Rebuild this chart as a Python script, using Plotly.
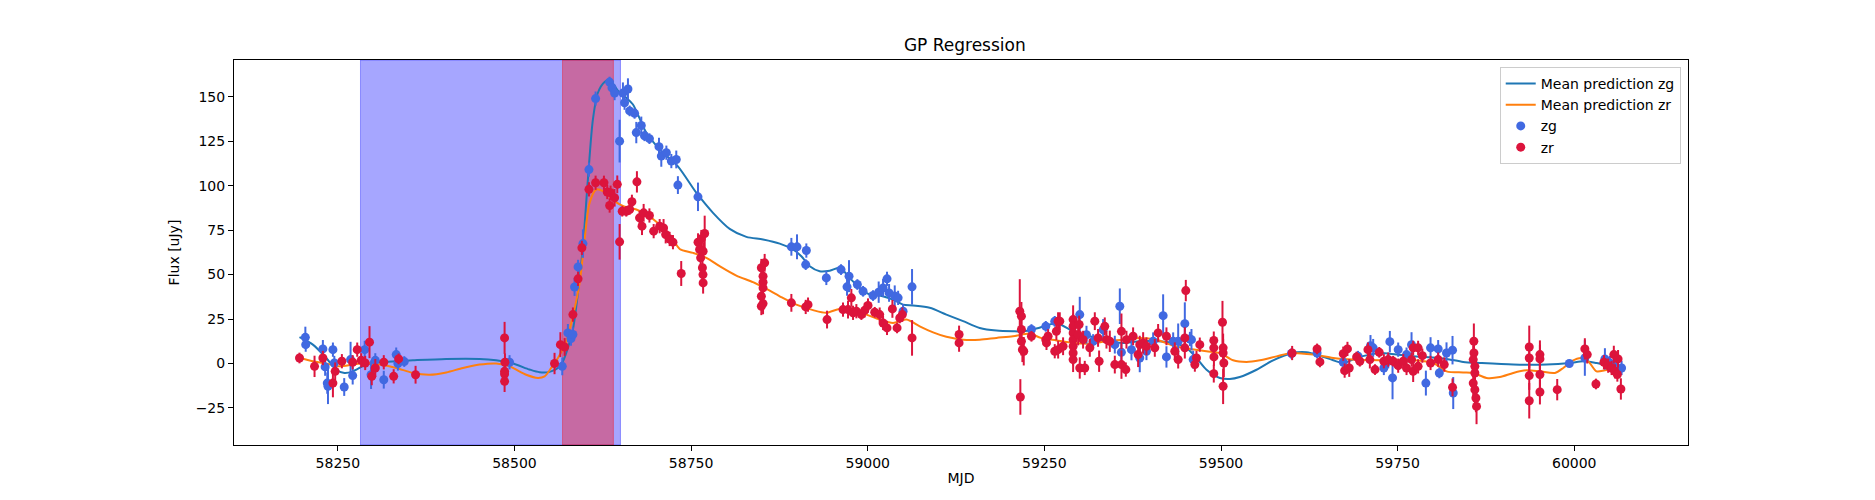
import plotly.graph_objects as go

# observed photometry, zg band
zg_mjd = [58204, 58204.5, 58228.8, 58232, 58235, 58236, 58243, 58245, 58259, 58268,
          58271, 58288, 58297, 58303, 58315, 58332.6, 58335, 58344, 58493, 58567.6,
          58575.6, 58580, 58582.7, 58585, 58590, 58596.9, 58605.4, 58614.8, 58634.6, 58638,
          58641.7, 58648.8, 58653.5, 58655.8, 58660.6, 58663, 58670, 58672.4, 58679.5, 58684,
          58691, 58704.5, 58707.8, 58715, 58722, 58729, 58731.3, 58759.7, 58891.9, 58899.9,
          58913.1, 58912.2, 58941.4, 58962.2, 58973.5, 58970.7, 58985.3, 58993.4, 59007.5, 59015.5,
          59021.7, 59027.3, 59030.2, 59038.2, 59043, 59050, 59062.7, 59231.7, 59252, 59264.7,
          59300.1, 59309.6, 59319, 59333.2, 59349.7, 59356.8, 59359, 59373.3, 59385, 59394.5,
          59404, 59418.1, 59422.8, 59432.3, 59439.4, 59448.8, 59456, 59458.2, 59460.6, 59599.8,
          59636, 59673, 59694, 59711.6, 59715.4, 59730.5, 59736.7, 59739, 59742.8, 59750.8,
          59762.6, 59769.7, 59790, 59796.6, 59807.4, 59809, 59819.2, 59827.7, 59828.7, 59993,
          60015, 60043.4, 60050.5, 60057.6, 60067]
zg_flux = [14.7, 10.6, 8.2, -1.9, -11, -12.8, 7.8, 0.3, -13.2, 2.2,
           -6.8, 7.8, -6.3, 1.8, -9.1, 5, 0, 1.1, 0.7, -1.6,
           17.2, 14, 16.3, 43, 54.3, 67.4, 109, 148.9, 158.2, 155,
           152, 125, 152, 146.6, 154.3, 142, 140.6, 129.8, 133.8, 128,
           126.4, 121.9, 116.6, 118.5, 113.8, 114.7, 100.3, 93.7, 65.6, 65.6,
           63.5, 55.6, 48.1, 52.8, 49.1, 43.1, 44.4, 40.6, 38.2, 40.1,
           42.5, 47.6, 39.7, 37.9, 36.9, 29.4, 43.1, 19.1, 20.9, 23.7,
           27.5, 16.2, 12.5, 19, 10.6, 32.2, 6.3, 7.8, 3.1, 6.9,
           12.5, 26.9, 3.7, 12.5, 12.5, 22.4, 13.8, 13.4, 2.2, 5.6,
           5.9, 0.7, 4.1, 10, 8.8, -2.5, 1.3, 12.3, -8.1, 7.8,
           5, 10.6, -11, 8.8, 8.2, -5.3, 5.9, 7.5, -16.6, 0,
           3.1, 2.6, 0.3, -1.2, -2.5]
zg_err = [6, 4, 5, 5, 6, 10, 4, 4, 5, 10,
          5, 5, 8, 4, 5, 4, 4, 3, 4, 5,
          5, 4, 4, 5, 4, 8, 4, 4, 3, 3,
          4, 12, 6, 4, 6, 3, 3, 6, 5, 3,
          3, 5, 6, 4, 4, 5, 5, 8, 5, 7,
          4, 3, 4, 3, 9, 5, 3, 3, 3, 6,
          5, 4, 5, 6, 4, 4, 10, 3, 3, 3,
          10, 5, 4, 6, 5, 10, 5, 6, 8, 5,
          5, 12, 6, 5, 10, 12, 4, 6, 5, 3,
          3, 3, 3, 6, 5, 4, 4, 6, 12, 4,
          4, 7, 7, 6, 5, 3, 6, 8, 9, 2,
          10, 6, 4, 4, 4]

# observed photometry, zr band
zr_mjd = [58195.7, 58217, 58228.8, 58243, 58246.2, 58255.7, 58271, 58277.4, 58283, 58288.7,
          58294.8, 58298, 58303, 58315, 58329, 58336, 58360, 58486, 58486.5, 58486,
          58486, 58486, 58556.7, 58565, 58571, 58582.7, 58590, 58595.4, 58605.4, 58614.8,
          58626.6, 58631.3, 58634.7, 58636, 58641.7, 58645.5, 58648.8, 58652.5, 58658.2, 58663,
          58666.2, 58673.3, 58677, 58680.5, 58682.8, 58691, 58697, 58705.5, 58711, 58714,
          58719.6, 58724.3, 58736, 58759.8, 58762, 58764.5, 58763.5, 58766, 58766.8, 58769.2,
          58767, 58767, 58849.4, 58854.1, 58851.8, 58851.8, 58851.8, 58849.4, 58851.8, 58849.4,
          58891.9, 58912.2, 58915.5, 58942.4, 58965, 58972.1, 58976.8, 58979.2, 58983.9, 58991,
          58995.7, 59000.4, 59009.9, 59016.9, 59021.7, 59027.3, 59034.9, 59041.5, 59045.3, 59049,
          59062.7, 59129.3, 59129.3, 59215.2, 59217.5, 59217.5, 59217.5, 59218.9, 59220.8, 59216,
          59231.7, 59252, 59253, 59255.3, 59267, 59269.4, 59264.7, 59269.5, 59271.8, 59276.5,
          59290.7, 59290.7, 59290.7, 59290.7, 59290.7, 59290.7, 59290.7, 59297.8, 59299.2, 59300.1,
          59304.8, 59307.2, 59314.3, 59321.4, 59326, 59327.5, 59335.5, 59337.9, 59342.6, 59349.7,
          59359.1, 59359.1, 59365.3, 59366.2, 59375.6, 59382.7, 59385, 59389.8, 59394.5, 59406.3,
          59411, 59422.8, 59434.6, 59439.4, 59448.8, 59448.8, 59450.2, 59463, 59465.3, 59470,
          59489.8, 59489.8, 59490, 59489.8, 59502.1, 59503, 59503, 59504, 59503, 59600.7,
          59636, 59640, 59673, 59675, 59679, 59681.5, 59692, 59696.5, 59708, 59710.7,
          59718, 59724, 59730.5, 59736.7, 59743.7, 59750.8, 59758, 59762.6, 59769.7, 59772,
          59772, 59779, 59779, 59785, 59796.6, 59807.4, 59816, 59827.7, 59857.9, 59858,
          59857, 59859.3, 59859.3, 59857, 59859.3, 59860.8, 59861.7, 59936.3, 59936.3, 59936.3,
          59936.3, 59951.4, 59951.4, 59951.4, 59951.4, 59975.9, 60015, 60018.4, 60030.7, 60042,
          60048, 60052.8, 60056, 60057.6, 60061, 60062, 60066]
zr_flux = [3.1, -1.6, 3.1, -11, -4.4, 1.3, 0.7, 7.8, 1.8, 0.3,
           12, -7.2, -2.5, 0.7, -7.2, 2.6, -6.3, 14.4, 0.7, -4.4,
           -5.9, -10, 0, 10.6, 9.3, 27.5, 47.6, 65, 97.9, 101.6,
           101.6, 96.4, 88.8, 96, 93.2, 100.7, 68.4, 85.6, 85.6, 86.6,
           90.9, 102.1, 81.9, 77.2, 84.7, 83.2, 74.4, 77.2, 76.2, 72.5,
           70, 68.2, 50.6, 68.2, 64.1, 70.1, 59.4, 53.8, 50, 73.1,
           63.1, 45.3, 53.8, 56.6, 49.1, 45.7, 42.5, 37.8, 33.7, 32.2,
           34.1, 31.8, 33.1, 24.7, 30.3, 30.3, 36.9, 28.5, 29.4, 27.5,
           29.9, 32.6, 28.8, 27.5, 22.8, 20, 30.7, 20, 25.6, 27.5,
           14.4, 16.3, 11.6, 29.4, 26.6, 19.1, 12.5, 7.8, 6.9, -18.8,
           15.3, 13.4, 11.6, 15.3, 18.1, 23.8, 6.9, 7.8, 23.8, 9.7,
           24.7, 21, 17.2, 13.4, 9.7, 5.9, 2.2, 16.2, 21.9, -2.5,
           13.4, -2.5, 8.8, 23.8, 14.4, 1.3, 20.9, 13.4, 12.5, -0.6,
           18.1, -0.6, -3.4, 13.4, 15.3, 5, 10.6, 11.6, 9.7, 8.8,
           17.2, 15.3, 6.9, 2.2, 8.8, 14.4, 41, -0.6, 3.1, 10.6,
           13, 8.8, 3.7, -5.7, 23.2, 8.8, 5.9, 0.3, -12.8, 5.9,
           8.2, 0.9, 5.5, -4, 8.2, -2.5, 3.7, 1.3, 7.8, 2.2,
           -3.4, 6.3, 1.3, 2.2, 1.3, -1.2, 1.3, -2.5, 2.2, 8.8,
           -4.4, 8.8, -1.6, 4.4, 0.3, 2.2, -0.6, -13.4, 12.5, 5.9,
           2.2, -1.6, -5.3, -11, -14.7, -19.4, -24.1, 9.3, 3.1, -6.8,
           -20.9, 5, 2.6, -6.2, -16, -14.7, 8.2, 5, -11.5, 0.7,
           -1.2, -2.5, 5, -4.4, -6.2, 2.6, -14.3]
zr_err = [3, 6, 4, 8, 5, 4, 4, 4, 4, 4,
          9, 5, 5, 4, 4, 3, 5, 9, 5, 5,
          4, 6, 6, 7, 5, 4, 4, 4, 4, 4,
          4, 4, 4, 4, 5, 5, 10, 3, 3, 3,
          4, 6, 4, 5, 5, 4, 4, 4, 5, 5,
          4, 4, 7, 5, 4, 5, 4, 8, 5, 10,
          5, 6, 5, 5, 4, 4, 5, 5, 6, 5,
          5, 4, 4, 5, 4, 5, 5, 4, 4, 3,
          4, 4, 3, 4, 4, 4, 5, 3, 3, 4,
          10, 5, 5, 18, 8, 6, 8, 7, 8, 10,
          3, 4, 4, 4, 5, 5, 4, 5, 5, 5,
          8, 7, 7, 7, 7, 7, 7, 6, 5, 6,
          5, 4, 5, 5, 5, 6, 5, 5, 6, 5,
          10, 8, 4, 5, 5, 7, 5, 6, 5, 5,
          5, 5, 5, 5, 6, 6, 6, 4, 4, 4,
          5, 6, 5, 5, 12, 8, 8, 8, 10, 4,
          3, 3, 4, 4, 4, 5, 3, 3, 4, 5,
          3, 3, 4, 4, 3, 4, 4, 4, 4, 4,
          6, 4, 4, 4, 4, 4, 4, 5, 10, 8,
          8, 8, 8, 8, 8, 8, 10, 12, 8, 8,
          10, 8, 8, 8, 7, 6, 6, 5, 3, 4,
          4, 4, 5, 4, 4, 5, 6]

# GP mean predictions
pred_zg_mjd = [58195.7, 58214.6, 58233.5, 58247.6, 58259.4, 58271.2, 58290, 58309, 58332.6, 58356.2,
               58403.4, 58450.6, 58474, 58497.8, 58521.4, 58535.5, 58549.7, 58561.5, 58568.6, 58575.6,
               58582.7, 58589.8, 58596.9, 58603.9, 58611, 58618.1, 58627.5, 58634.6, 58641.7, 58648.8,
               58658.2, 58667.7, 58686.5, 58705.4, 58731, 58757.4, 58781, 58804.6, 58828.2, 58851.8,
               58875.4, 58894.3, 58906, 58917.9, 58932, 58946.2, 58960.3, 58974.5, 58988.6, 59002.8,
               59017, 59035.8, 59050, 59064.1, 59087.7, 59111.3, 59135, 59158.5, 59182.1, 59205.7,
               59219.9, 59234, 59252.9, 59267.1, 59290.7, 59314.3, 59337.9, 59361.5, 59385.1, 59408.7,
               59432.3, 59451.1, 59465.3, 59479.5, 59498.3, 59512.5, 59526.6, 59550.3, 59573.8, 59600,
               59621, 59640, 59658.8, 59673, 59691.8, 59710.7, 59724.9, 59748.5, 59772.1, 59795.6,
               59819.2, 59842.8, 59866.4, 59913.6, 59960.8, 59993.9, 60012.7, 60031.6, 60050.5, 60067]
pred_zg_flux = [14.8, 10.6, 3.1, -3.5, -5.3, -4.4, -0.6, 0.7, 1.3, 1.8,
                2.6, 2.6, 1.8, 0, -3.4, -4.9, -4.7, -2.5, 1.3, 8.8,
                19.1, 39.7, 66, 103.4, 137.2, 152.2, 158.2, 159.4, 156, 152.2,
                149.4, 145.6, 129.8, 120.4, 111, 96, 84.7, 75.7, 71.2, 69.7,
                67.4, 64.1, 60.3, 54.7, 51.9, 52.2, 53.8, 48.1, 42.5, 38.8,
                38.2, 35.9, 33.1, 32.6, 31.3, 27.5, 23.8, 20, 18.5, 18.1,
                18.1, 19.1, 21.3, 22.8, 18.1, 15.3, 12.5, 11.6, 12.5, 12.5,
                11.6, 8.8, 3.1, -3.5, -8.1, -8.7, -7.6, -3.5, 1.8, 5.8,
                6.3, 4.4, 1.8, 0.3, 3.1, 5, 5.9, 5, 4.1, 3.5,
                2.6, 0.9, 0.3, -0.6, -0.6, 0.3, 1.3, 0.3, -1.2, -2.5]

pred_zr_mjd = [58195.7, 58214.6, 58233.5, 58252.4, 58271.2, 58290, 58309, 58332.6, 58356.2, 58379.8,
               58403.4, 58427, 58450.6, 58474.2, 58493, 58516.6, 58533.2, 58542.6, 58552, 58561.5,
               58573.3, 58582.7, 58592.2, 58599.2, 58606.3, 58615.7, 58625.2, 58639.3, 58648.8, 58660.6,
               58672.4, 58686.5, 58705.4, 58724.3, 58733.8, 58752.7, 58771.6, 58790.4, 58814, 58837.6,
               58856.5, 58875.4, 58899, 58922.6, 58941.4, 58960.3, 58979.2, 58998.1, 59016.9, 59035.8,
               59054.7, 59073.6, 59092.5, 59111.3, 59135, 59158.5, 59182.1, 59205.7, 59229.3, 59245,
               59267.1, 59290.7, 59314.3, 59337.9, 59361.5, 59385.1, 59408.7, 59432.3, 59455.9, 59479.5,
               59498.3, 59517.2, 59536.1, 59555, 59578.6, 59600, 59630.5, 59658.8, 59687, 59724.9,
               59772, 59800.4, 59819.2, 59842.8, 59857, 59875.9, 59894.7, 59913.6, 59932.5, 59951.4,
               59972.6, 59984.4, 59996.2, 60010.4, 60019.8, 60031.6, 60043.4, 60055.2, 60067]
pred_zr_flux = [3.1, 1.3, 0, -1.6, -0.6, 0.3, -0.6, -2.5, -5.3, -6.3,
                -5, -2.5, -0.6, 0, -1.6, -6.3, -8.1, -7.2, -2.5, 3.1,
                12.5, 26.6, 45.3, 69.7, 90.3, 97.8, 96.9, 92.2, 89.4, 87.5,
                86.6, 83.8, 78.1, 69.7, 64.4, 62.2, 59.4, 54.7, 49.4, 45.7,
                41.9, 37.8, 33.1, 30, 28.5, 30.7, 30, 27.5, 24.7, 22.8,
                24.7, 20.9, 17.5, 15, 13.4, 13.4, 14.4, 15.3, 16.8, 14.4,
                13, 11.6, 11.2, 12.5, 13.4, 14.4, 13.4, 10, 8.1, 6.9,
                5.9, 1.8, 0.9, 1.8, 4, 5.9, 5, 3.1, 2.2, 1.8,
                1.8, 0.3, -4.4, -5, -5.3, -8.1, -7.6, -5.3, -3.8, -4.4,
                -5.3, -2.5, 1.3, 3.1, 1.3, -4.4, -3.8, -3.1, -2.5]

# shaded windows (MJD)
wide_window = [58282, 58650]
peak_window = [58568, 58640]

fig = go.Figure()

fig.add_trace(go.Scatter(x=pred_zg_mjd, y=pred_zg_flux, mode='lines', name='Mean prediction zg',
                         line=dict(color='#1f77b4', width=2, shape='spline', smoothing=0.8)))
fig.add_trace(go.Scatter(x=pred_zr_mjd, y=pred_zr_flux, mode='lines', name='Mean prediction zr',
                         line=dict(color='#ff7f0e', width=2, shape='spline', smoothing=0.8)))

fig.add_trace(go.Scatter(x=zg_mjd, y=zg_flux, mode='markers', name='zg',
                         marker=dict(color='royalblue', size=9),
                         error_y=dict(type='data', array=zg_err, color='royalblue', thickness=2, width=0)))
fig.add_trace(go.Scatter(x=zr_mjd, y=zr_flux, mode='markers', name='zr',
                         marker=dict(color='crimson', size=9),
                         error_y=dict(type='data', array=zr_err, color='crimson', thickness=2, width=0)))

# shaded regions drawn under the data
fig.add_vrect(x0=wide_window[0], x1=wide_window[1], fillcolor='rgba(0,0,255,0.35)',
              line=dict(color='rgba(0,0,255,0.35)', width=1), layer='below')
fig.add_vrect(x0=peak_window[0], x1=peak_window[1], fillcolor='rgba(255,0,0,0.36)',
              line=dict(color='rgba(255,0,0,0.36)', width=1), layer='below')

axis_style = dict(showline=True, mirror=True, linecolor='black', linewidth=1,
                  ticks='outside', ticklen=5, tickcolor='black', showgrid=False, zeroline=False,
                  tickfont=dict(size=14, color='black'))

# the page body adds an 8px margin, so the figure is 8px smaller each way
fig.update_layout(
    width=1867, height=492,
    font=dict(family='DejaVu Sans', size=14, color='black'),
    plot_bgcolor='white', paper_bgcolor='white',
    margin=dict(l=226, r=187, t=52, b=55),
    title=dict(text='GP Regression', x=0.5125, xanchor='center', y=0.924, yanchor='middle',
               yref='container', font=dict(size=17)),
    xaxis=dict(range=[58103, 60161], tickmode='linear', tick0=58250, dtick=250, tickformat='d',
               title=dict(text='MJD', standoff=3, font=dict(size=14)), **axis_style),
    yaxis=dict(range=[-45.8, 170.6], tickmode='linear', tick0=-25, dtick=25,
               title=dict(text='Flux [uJy]', standoff=12, font=dict(size=14)), **axis_style),
    legend=dict(x=0.995, y=0.982, xanchor='right', yanchor='top', bgcolor='rgba(255,255,255,0.8)',
                bordercolor='#cccccc', borderwidth=1, font=dict(size=14)),
    showlegend=True,
)

fig.write_html("out.html")
